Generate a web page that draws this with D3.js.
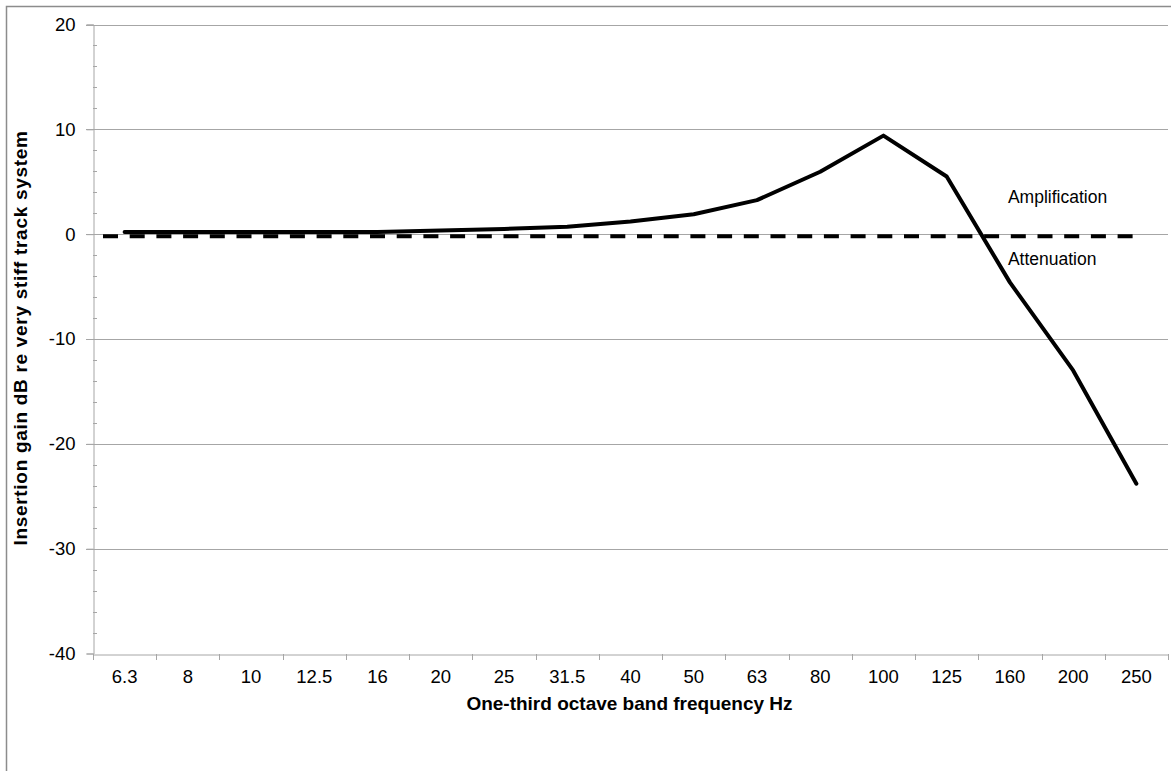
<!DOCTYPE html>
<html>
<head>
<meta charset="utf-8">
<script src="https://cdn.jsdelivr.net/npm/d3@7"></script>
<style>
  html, body { margin: 0; padding: 0; background: #fff; }
  svg { display: block; }
  text { font-family: "Liberation Sans", Arial, sans-serif; fill: #000; }
</style>
</head>
<body>
<svg id="chart" width="1171" height="771"></svg>
<script>
// ---- data ----
const categories = ["6.3","8","10","12.5","16","20","25","31.5","40","50","63","80","100","125","160","200","250"];
const insertionGain = [0.2,0.2,0.2,0.2,0.2,0.35,0.5,0.7,1.2,1.9,3.25,5.95,9.4,5.5,-4.6,-13.0,-23.8];
const referenceLevel = -0.2;
const yTicks = [20,10,0,-10,-20,-30,-40];
const yMinorTicks = [18,16,14,12,8,6,4,2,-2,-4,-6,-8,-12,-14,-16,-18,-22,-24,-26,-28,-32,-34,-36,-38];
const annotations = [
  {text: "Amplification", category: "160", value: 3.0},
  {text: "Attenuation", category: "160", value: -2.9}
];

// ---- layout ----
const svg = d3.select("#chart");
const W = 1171, H = 771;
const mLeft = 93, mRight = 1168, mTop = 24.5, mBottom = 653.5;
const FONT = "Liberation Sans, Arial, sans-serif";

svg.append("rect").attr("x", 6.5).attr("y", 6.5).attr("width", W + 10).attr("height", H + 10)
  .attr("fill", "none").attr("stroke", "#8c8c8c").attr("stroke-width", 1.5);

const x = d3.scaleBand().domain(categories).range([mLeft, mRight]).padding(0);
const y = d3.scaleLinear().domain([-40, 20]).range([mBottom, mTop]);
const cx = c => x(c) + x.bandwidth() / 2;

// gridlines
svg.append("g").selectAll("line").data(yTicks.filter(t => t > -40)).join("line")
  .attr("x1", mLeft - 7).attr("x2", mRight)
  .attr("y1", d => Math.round(y(d)) + 0.5).attr("y2", d => Math.round(y(d)) + 0.5)
  .attr("stroke", "#a6a6a6").attr("stroke-width", 1);

// y axis
const yAxis = svg.append("g").attr("transform", `translate(${mLeft + 0.5},0)`)
  .call(d3.axisLeft(y).tickValues(yTicks).tickSize(7).tickPadding(11).tickFormat(d => String(d)));
yAxis.select(".domain").attr("stroke", "#a6a6a6");
yAxis.selectAll(".tick line").attr("stroke", "#a6a6a6");
yAxis.selectAll(".tick text").attr("font-size", 18.5).attr("font-family", FONT).attr("fill", "#000");
svg.append("g").selectAll("line").data(yMinorTicks).join("line")
  .attr("x1", mLeft).attr("x2", mLeft + 4)
  .attr("y1", d => Math.round(y(d)) + 0.5).attr("y2", d => Math.round(y(d)) + 0.5)
  .attr("stroke", "#a6a6a6");

// x axis
const xAxis = svg.append("g").attr("transform", `translate(0,${Math.round(mBottom) + 0.5})`)
  .call(d3.axisBottom(x).tickSize(0).tickPadding(15));
xAxis.select(".domain").attr("stroke", "#a6a6a6");
xAxis.selectAll(".tick text").attr("font-size", 18.5).attr("font-family", FONT).attr("fill", "#000");
const boundaries = categories.map(c => x(c)).concat([x(categories[categories.length - 1]) + x.bandwidth()]);
svg.append("g").selectAll("line").data(boundaries).join("line")
  .attr("x1", d => Math.round(d) + 0.5).attr("x2", d => Math.round(d) + 0.5)
  .attr("y1", Math.round(mBottom)).attr("y2", Math.round(mBottom) + 6)
  .attr("stroke", "#a6a6a6");

// axis titles
svg.append("text").attr("x", (mLeft + mRight) / 2 - 1).attr("y", 710)
  .attr("text-anchor", "middle").attr("font-size", 19).attr("font-weight", "bold")
  .text("One-third octave band frequency Hz");
svg.append("text").attr("transform", `translate(27,${(mTop + mBottom) / 2 - 1}) rotate(-90)`)
  .attr("text-anchor", "middle").attr("font-size", 19).attr("font-weight", "bold")
  .attr("letter-spacing", 0.7)
  .text("Insertion gain dB re very stiff track system");

// reference dashed line
const x0 = x(categories[0]) + 10, x1 = x(categories[categories.length - 1]) + x.bandwidth() - 26;
svg.append("line").attr("x1", x0).attr("x2", x1)
  .attr("y1", y(referenceLevel)).attr("y2", y(referenceLevel))
  .attr("stroke", "#000").attr("stroke-width", 4).attr("stroke-dasharray", "15,11.7");

// main series
const line = d3.line().x((d, i) => cx(categories[i])).y(d => y(d));
svg.append("path").datum(insertionGain).attr("d", line)
  .attr("fill", "none").attr("stroke", "#000").attr("stroke-width", 4)
  .attr("stroke-linejoin", "round").attr("stroke-linecap", "round");

// annotations
svg.append("g").selectAll("text").data(annotations).join("text")
  .attr("x", d => cx(d.category) - 2).attr("y", d => y(d.value))
  .attr("font-size", 17.5).text(d => d.text);
</script>
</body>
</html>
